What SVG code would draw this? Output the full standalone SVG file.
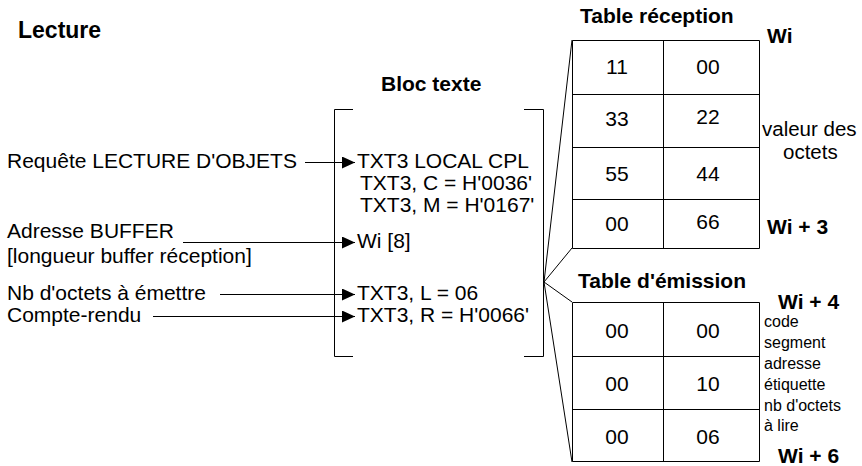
<svg xmlns="http://www.w3.org/2000/svg" width="862" height="466" viewBox="0 0 862 466">
<defs>
<style>
text{font-family:"Liberation Sans",Arial,sans-serif;fill:#000;font-size:21px}
.b{font-weight:bold}
.t{font-size:23px;font-weight:bold}
.s{font-size:16px}
.v{font-size:20.5px}
.c{text-anchor:middle}
.ln{stroke:#000;stroke-width:1;fill:none}
</style>
<marker id="ah" viewBox="0 0 13 12" refX="13" refY="6" markerWidth="13" markerHeight="12" markerUnits="userSpaceOnUse" orient="auto">
<path d="M0,0 L13,6 L0,12 Z" fill="#000"/>
</marker>
</defs>
<rect width="862" height="466" fill="#fff"/>
<g id="title"><text class="t" x="18" y="38">Lecture</text></g>
<g id="labels">
<text x="7" y="168">Requête LECTURE D'OBJETS</text>
<text x="7" y="238">Adresse BUFFER</text>
<text x="7" y="263">[longueur buffer réception]</text>
<text x="7" y="300">Nb d'octets à émettre</text>
<text x="7" y="322">Compte-rendu</text>
</g>
<g id="bloc">
<text class="b" x="381" y="91">Bloc texte</text>
<path class="ln" d="M353,109.5 H334.5 V356.5 H353"/>
<path class="ln" d="M524,109.5 H543.5 V356.5 H524"/>
<text x="357" y="168">TXT3 LOCAL CPL</text>
<text x="360" y="190">TXT3, C = H'0036'</text>
<text x="360" y="212">TXT3, M = H'0167'</text>
<text x="357" y="248">Wi [8]</text>
<text x="357" y="300">TXT3, L = 06</text>
<text x="357" y="322">TXT3, R = H'0066'</text>
</g>
<g id="connectors">
<line class="ln" x1="305" y1="162.5" x2="355" y2="162.5" marker-end="url(#ah)"/>
<line class="ln" x1="183" y1="242.5" x2="355" y2="242.5" marker-end="url(#ah)"/>
<line class="ln" x1="220" y1="294.5" x2="355" y2="294.5" marker-end="url(#ah)"/>
<line class="ln" x1="153" y1="316.5" x2="355" y2="316.5" marker-end="url(#ah)"/>
<path class="ln" d="M572,40 L544,282 L572,248 M572,302 L544,282 L572,462"/>
</g>
<g id="table-reception">
<text class="b" x="580" y="23">Table réception</text>
<path class="ln" d="M572.5,40.5 H759.5 V248.5 H572.5 Z M663.5,40.5 V248.5 M572.5,94.5 H759.5 M572.5,147.5 H759.5 M572.5,199.5 H759.5"/>
<text class="c" x="617" y="74">11</text>
<text class="c" x="708" y="74">00</text>
<text class="c" x="617" y="126">33</text>
<text class="c" x="708" y="124">22</text>
<text class="c" x="617" y="181">55</text>
<text class="c" x="708" y="181">44</text>
<text class="c" x="617" y="231">00</text>
<text class="c" x="708" y="229">66</text>
<text class="b" x="767" y="43">Wi</text>
<text class="v" x="762" y="136">valeur des</text>
<text class="v" x="783" y="159">octets</text>
<text class="b" x="767" y="234">Wi + 3</text>
</g>
<g id="table-emission">
<text class="b" x="578" y="288">Table d'émission</text>
<path class="ln" d="M572.5,302.5 H759.5 V461.5 H572.5 Z M663.5,302.5 V461.5 M572.5,356.5 H759.5 M572.5,409.5 H759.5"/>
<text class="c" x="617" y="338">00</text>
<text class="c" x="708" y="338">00</text>
<text class="c" x="617" y="391">00</text>
<text class="c" x="708" y="391">10</text>
<text class="c" x="617" y="444">00</text>
<text class="c" x="708" y="444">06</text>
<text class="b" x="778" y="309">Wi + 4</text>
<text class="s" x="764" y="327">code</text>
<text class="s" x="764" y="348">segment</text>
<text class="s" x="764" y="369">adresse</text>
<text class="s" x="764" y="390">étiquette</text>
<text class="s" x="764" y="411">nb d'octets</text>
<text class="s" x="764" y="431">à lire</text>
<text class="b" x="778" y="463">Wi + 6</text>
</g>
</svg>
